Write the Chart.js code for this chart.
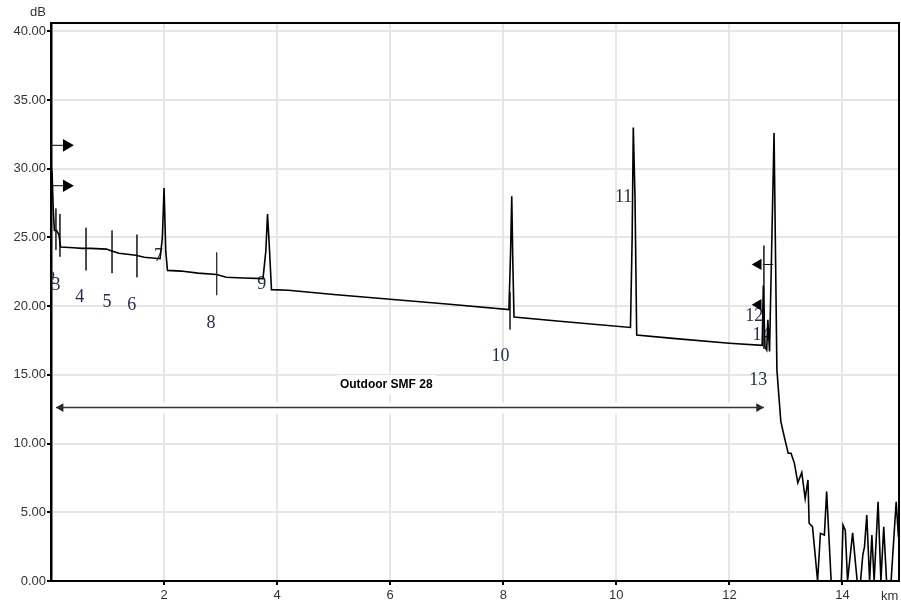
<!DOCTYPE html>
<html>
<head>
<meta charset="utf-8">
<script src="https://cdn.jsdelivr.net/npm/chart.js@4.4.0/dist/chart.umd.min.js"></script>
<style>
  html, body { margin: 0; padding: 0; background: #fff; }
</style>
</head>
<body>
<canvas id="otdr" width="901" height="605"></canvas>
<script>
// --- Trace data (distance km / level dB) ---
const traceKm = [0.00, 0.02, 0.04, 0.06, 0.10, 0.14, 0.17, 0.40, 0.55, 0.70, 0.98, 1.05, 1.20, 1.50, 1.65, 1.93,
    1.97, 2.00, 2.03, 2.06, 2.30, 2.60, 2.93, 3.10, 3.40, 3.75, 3.80, 3.83, 3.86, 3.90,
    4.20, 5.00, 6.00, 7.00, 8.10, 8.13, 8.15, 8.17, 8.19, 9.00, 10.25, 10.28, 10.30, 10.33, 10.36,
    11.00, 12.00, 12.58, 12.60, 12.63, 12.66, 12.68, 12.71, 12.79, 12.84, 12.88, 12.91, 12.97,
    13.04, 13.09, 13.15, 13.21, 13.28, 13.34, 13.39, 13.41, 13.47, 13.56, 13.61, 13.68, 13.72,
    13.80, 13.98, 14.01, 14.05, 14.09, 14.18, 14.26, 14.32, 14.36, 14.39, 14.43, 14.48, 14.52,
    14.56, 14.63, 14.68, 14.73, 14.78, 14.86, 14.95, 14.99, 15.00];
const traceDb = [30.3, 29.6, 27.0, 25.5, 25.5, 25.2, 24.3, 24.25, 24.2, 24.2, 24.15, 24.05, 23.85, 23.7, 23.55, 23.45,
    25.0, 28.6, 24.0, 22.6, 22.55, 22.4, 22.3, 22.1, 22.05, 22.0, 24.0, 26.7, 24.5, 21.2,
    21.15, 20.85, 20.5, 20.15, 19.75, 24.0, 28.0, 23.0, 19.2, 18.9, 18.45, 25.0, 33.0, 28.0, 17.9,
    17.65, 17.3, 17.15, 21.5, 17.0, 16.8, 19.0, 16.7, 32.6, 15.4, 13.2, 11.6, 10.5,
    9.3, 9.3, 8.56, 7.15, 7.9, 6.0, 7.35, 4.2, 3.95, 0, 3.47, 3.35, 6.5,
    0, 0, 4.07, 3.7, 0, 3.5, 0, 0, 1.9, 2.5, 4.8, 0, 3.35,
    0, 5.77, 0, 3.95, 0, 0, 5.77, 3.2, 3.7];

// --- Axes ---
const xTicks = [2, 4, 6, 8, 10, 12, 14];
const yTicks = [0, 5, 10, 15, 20, 25, 30, 35, 40];

// --- Event markers (vertical cursor lines) ---
const markerKm = [0.087, 0.158, 0.62, 1.08, 1.52, 2.93, 8.12, 12.61];
const markerTop = [27.1, 26.7, 25.7, 25.5, 25.2, 23.9, 21.0, 24.4];
const markerBottom = [24.1, 23.6, 22.6, 22.4, 22.1, 20.8, 18.3, 16.9];

// --- Event numbers ---
const eventLabels = ['2', '3', '4', '5', '6', '7', '8', '9', '10', '11', '12', '14', '13'];
const eventKm = [0.00, 0.09, 0.51, 0.99, 1.43, 1.90, 2.83, 3.73, 7.95, 10.13, 12.44, 12.57, 12.51];
const eventDb = [21.96, 21.5, 20.65, 20.29, 20.07, 23.64, 18.76, 21.56, 16.33, 27.89, 19.24, 17.89, 14.62];

// --- Flags (A/B cursors) ---
const flagStartDb = [31.7, 28.76];
const flagStartKm = [0.276];
const flagStartLine = [0, 0.21];
const flagEndDb = [23.03, 20.1];
const flagEndKm = [12.51];
const flagEndLine = [12.59, 12.77];

// --- Span arrow ---
const spanText = 'Outdoor SMF 28';
const spanKm = [0.09, 12.61];
const spanHeadKm = [0.175, 12.52];
const spanDb = 12.62;
const spanTextKm = 5.93;
const spanTextDb = 14.25;

const trace = traceKm.map((k, i) => ({ x: k, y: traceDb[i] }));

const lineSet = (pts, color, width) => ({
    data: pts, showLine: true, borderColor: color, borderWidth: width,
    pointRadius: 0, fill: false
});

const datasets = [];
datasets.push(lineSet(trace, '#000', 1.6));
markerKm.forEach((k, i) => {
    datasets.push(lineSet([{ x: k, y: markerTop[i] }, { x: k, y: markerBottom[i] }], '#333', 1));
});
flagStartDb.forEach(d => {
    datasets.push(lineSet(flagStartLine.map(k => ({ x: k, y: d })), '#000', 1));
});
datasets.push({
    data: flagStartDb.map(d => ({ x: flagStartKm[0], y: d })),
    pointStyle: 'triangle', pointRotation: 90, pointRadius: 7.3,
    pointBackgroundColor: '#000', pointBorderWidth: 0, showLine: false
});
datasets.push(lineSet(flagEndLine.map(k => ({ x: k, y: flagEndDb[0] })), '#000', 1));
datasets.push({
    data: flagEndDb.map(d => ({ x: flagEndKm[0], y: d })),
    pointStyle: 'triangle', pointRotation: -90, pointRadius: 6.5,
    pointBackgroundColor: '#000', pointBorderWidth: 0, showLine: false
});
datasets.push(lineSet(spanKm.map(k => ({ x: k, y: spanDb })), '#333', 1.5));
datasets.push({
    data: spanHeadKm.map(k => ({ x: k, y: spanDb })),
    pointStyle: 'triangle', pointRotation: [-90, 90], pointRadius: 5,
    pointBackgroundColor: '#222', pointBorderWidth: 0, showLine: false
});

const overlay = {
    id: 'overlay',
    beforeDatasetsDraw(chart) {
        const { ctx, chartArea: a, scales: { x, y } } = chart;
        ctx.save();
        // white band under the span arrow and its caption
        ctx.fillStyle = '#fff';
        const ay = y.getPixelForValue(spanDb);
        const ax0 = x.getPixelForValue(spanKm[0]), ax1 = x.getPixelForValue(spanKm[1]);
        ctx.fillRect(ax0, ay - 5, ax1 - ax0, 11);
        ctx.font = 'bold 12px "Liberation Sans", Arial, sans-serif';
        const tx = x.getPixelForValue(spanTextKm), ty = y.getPixelForValue(spanTextDb);
        const tw = ctx.measureText(spanText).width;
        ctx.fillRect(tx - tw / 2 - 3, ty - 10, tw + 6, 20);
        ctx.fillStyle = '#000';
        ctx.textAlign = 'center';
        ctx.textBaseline = 'middle';
        ctx.fillText(spanText, tx, ty);

        // event numbers, clipped to the plot
        ctx.beginPath();
        ctx.rect(a.left + 1, a.top, a.right - a.left, a.bottom - a.top);
        ctx.clip();
        ctx.font = '18px "Liberation Serif", "Times New Roman", serif';
        ctx.fillStyle = '#1e2a4a';
        eventLabels.forEach((t, i) => {
            ctx.fillText(t, x.getPixelForValue(eventKm[i]), y.getPixelForValue(eventDb[i]));
        });
        ctx.restore();
    },
    afterDraw(chart) {
        const { ctx, chartArea: a } = chart;
        ctx.save();
        ctx.strokeStyle = '#000';
        ctx.lineWidth = 2;
        ctx.strokeRect(a.left, a.top, a.right - a.left, a.bottom - a.top);
        ctx.font = '13px "Liberation Sans", Arial, sans-serif';
        ctx.fillStyle = '#333';
        ctx.textBaseline = 'middle';
        ctx.textAlign = 'left';
        ctx.fillText('dB', 30, 12);
        ctx.fillText('km', 881, 596);
        ctx.restore();
    }
};

new Chart(document.getElementById('otdr'), {
    type: 'scatter',
    data: { datasets },
    options: {
        responsive: false,
        animation: false,
        layout: { autoPadding: false, padding: { top: 23, right: 2, left: 0, bottom: 0 } },
        scales: {
            x: {
                type: 'linear', min: 0, max: 15,
                afterBuildTicks: s => { s.ticks = xTicks.map(v => ({ value: v })); },
                afterFit: s => { s.height = 24; },
                grid: { color: '#e6e6e6', lineWidth: 2, tickColor: '#000', tickLength: 4, tickWidth: 2 },
                border: { color: '#000', width: 2 },
                ticks: { padding: 3, color: '#333', font: { family: '"Liberation Sans", Arial, sans-serif', size: 13 },
                    maxRotation: 0, autoSkip: false }
            },
            y: {
                type: 'linear', min: 0, max: 40.6,
                afterBuildTicks: s => { s.ticks = yTicks.map(v => ({ value: v })); },
                afterFit: s => { s.width = 51; },
                grid: { color: '#e6e6e6', lineWidth: 2, tickColor: '#000', tickLength: 4, tickWidth: 2 },
                border: { color: '#000', width: 2.5 },
                ticks: { padding: 1, color: '#333', font: { family: '"Liberation Sans", Arial, sans-serif', size: 13 },
                    callback: v => v.toFixed(2) }
            }
        },
        plugins: { legend: { display: false }, tooltip: { enabled: false } }
    },
    plugins: [overlay]
});
</script>
</body>
</html>
